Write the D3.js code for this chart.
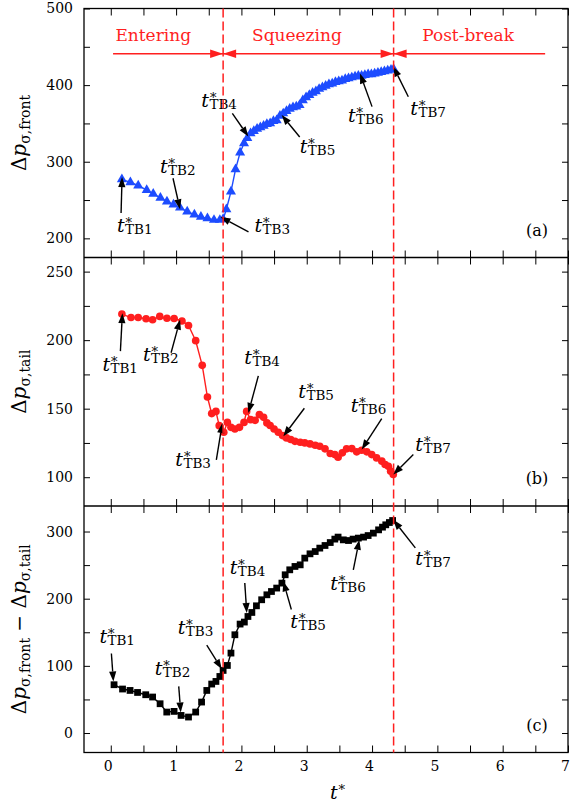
<!DOCTYPE html>
<html>
<head>
<meta charset="utf-8">
<script src="https://cdn.jsdelivr.net/npm/d3@7"></script>
<style>
  body { margin: 0; background: #fff; }
  text { font-family: "DejaVu Serif", serif; }
</style>
</head>
<body>
<svg id="chart" width="570" height="803"></svg>
<script>
// [t*, value]
var frontSeries = [
    [0.17, 277], [0.30, 273], [0.42, 269], [0.55, 263], [0.65, 258], [0.76, 253],
    [0.86, 248], [0.96, 244], [1.06, 240], [1.17, 235], [1.28, 231], [1.38, 228],
    [1.48, 226], [1.58, 224], [1.67, 224], [1.72, 225], [1.77, 238], [1.84, 261],
    [1.91, 290], [1.98, 312], [2.04, 324], [2.09, 331], [2.14, 337], [2.19, 340],
    [2.24, 343], [2.29, 345], [2.34, 347], [2.39, 349], [2.44, 350], [2.49, 353],
    [2.54, 354], [2.59, 360], [2.64, 363], [2.69, 366], [2.74, 369], [2.79, 371],
    [2.84, 372], [2.89, 374], [2.94, 380], [2.99, 384], [3.04, 387], [3.09, 390],
    [3.14, 392], [3.19, 395], [3.24, 397], [3.29, 399], [3.34, 401], [3.39, 402],
    [3.44, 404], [3.49, 405], [3.54, 406], [3.59, 408], [3.64, 409], [3.69, 410],
    [3.74, 411], [3.79, 412], [3.84, 412], [3.89, 413], [3.94, 414], [3.99, 414],
    [4.04, 415], [4.09, 416], [4.14, 417], [4.19, 418], [4.24, 419], [4.29, 420],
    [4.33, 421]
];
var tailSeries = [
    [0.17, 219], [0.31, 216.5], [0.42, 216.5], [0.54, 215.6], [0.64, 214.9], [0.75, 217.3],
    [0.86, 216], [0.97, 215.8], [1.09, 214], [1.19, 210.7], [1.30, 199.6], [1.40, 181.6],
    [1.48, 158.5], [1.545, 146.4], [1.61, 148], [1.66, 137.6], [1.73, 132.8], [1.785, 140],
    [1.84, 136.4], [1.90, 135.2], [1.97, 136.4], [2.04, 140], [2.08, 148], [2.14, 142],
    [2.21, 141.5], [2.275, 145.7], [2.34, 143.7], [2.39, 139.6], [2.44, 137.7], [2.50, 135.2],
    [2.565, 132.8], [2.63, 130.4], [2.69, 128.7], [2.755, 127.5], [2.82, 126.2], [2.90, 125.5],
    [2.97, 125], [3.05, 124.3], [3.13, 123.3], [3.20, 122.6], [3.28, 120.7], [3.36, 117.3],
    [3.43, 116.5], [3.48, 114.6], [3.545, 117.8], [3.61, 120.7], [3.69, 120.9], [3.765, 118.5],
    [3.84, 119.7], [3.92, 118.5], [3.995, 116.5], [4.07, 114.1], [4.15, 111.7], [4.20, 109.3],
    [4.25, 108], [4.285, 104.4], [4.325, 102]
];
var diffSeries = [
    [0.05, 71.9], [0.18, 65.5], [0.295, 63.4], [0.41, 60.4], [0.535, 57], [0.64, 53.6],
    [0.755, 43.6], [0.857, 31.2], [0.969, 32.2], [1.076, 26.2], [1.19, 23.8], [1.30, 31.2],
    [1.39, 46.1], [1.47, 63.4], [1.545, 72.9], [1.61, 76.8], [1.67, 84.2], [1.72, 93.2],
    [1.785, 100.6], [1.84, 119], [1.90, 146.3], [1.98, 162.2], [2.045, 165.2], [2.10, 173.5],
    [2.16, 179.5], [2.23, 189.4], [2.31, 198.4], [2.39, 205.8], [2.46, 210.7], [2.54, 215.8],
    [2.62, 223.2], [2.67, 235.6], [2.74, 243], [2.82, 248], [2.90, 250.4], [2.97, 260.4],
    [3.05, 266.8], [3.13, 270.2], [3.20, 275.3], [3.28, 279.2], [3.36, 283.6], [3.43, 288.7],
    [3.48, 291.7], [3.56, 287.6], [3.64, 286.6], [3.71, 288.7], [3.79, 290.2], [3.87, 291.7],
    [3.94, 294], [4.02, 297.6], [4.10, 302.5], [4.16, 306.5], [4.21, 310], [4.265, 313.4],
    [4.315, 316.4]
];

// [name, tip t*, tip value, tail dx, tail dy, label dx, label dy]
var frontNotes = [
    ['TB1', 0.173, 280, -1, 36, -5, 55],
    ['TB2', 1.06, 238, -7, -31, -20, -36],
    ['TB3', 1.68, 228, 28, 15, 34, 15],
    ['TB4', 2.106, 333, -16, -23, -47, -29],
    ['TB5', 2.617, 361, 18, 22, 18, 38],
    ['TB6', 3.816, 415, 12, 33, -12, 48],
    ['TB7', 4.326, 424, 15, 30, 17, 48]
];
var tailNotes = [
    ['TB1', 0.178, 219.7, -2, 38, -20, 58],
    ['TB2', 1.061, 214.9, -9, 33, -37, 41],
    ['TB3', 1.708, 139.6, -6, 37, -47, 43],
    ['TB4', 2.106, 146.9, 10, -37, -4, -49],
    ['TB5', 2.642, 129.9, 21, -28, 15, -38],
    ['TB6', 3.842, 120.2, 20, -31, -11, -38],
    ['TB7', 4.326, 102, 20, -20, 22, -23]
];
var diffNotes = [
    ['TB1', 0.04, 76.8, -2, -28, -14, -38],
    ['TB2', 1.071, 30.7, -2, -26, -26, -37],
    ['TB3', 1.699, 95.2, -15, -24, -44, -35],
    ['TB4', 2.082, 178.6, -2, -30, -17, -39],
    ['TB5', 2.642, 225.6, 8, 28, 7, 47],
    ['TB6', 3.805, 287.6, -6, 30, -29, 50],
    ['TB7', 4.326, 317.4, 22, 28, 22, 45]
];

var phaseNames = ['Entering', 'Squeezing', 'Post-break'];
var phaseLabelT = [0.65, 2.85, 5.47];
var phaseBounds = [1.72, 4.33];
var phaseLineExtent = [0.035, 6.65];
var phaseLineValue = 441;
var phaseTextValue = 458;

var xTicks = d3.range(0, 7.01, 0.5);
var frontTicks = d3.range(200, 501, 50);
var tailTicks = d3.range(100, 251, 25);
var diffTicks = d3.range(0, 301, 50);

var left = 84;
var right = 568;
var edges = [8.5, 257.5, 506, 752.5];
var red = '#ff1f1f';

var svg = d3.select('#chart');
var xScale = d3.scaleLinear().domain([-0.41, 7]).range([left, right]);

var panels = [
    { series: frontSeries, notes: frontNotes, domain: [175, 500], ticks: frontTicks, step: 100,
      color: '#1d4cff', symbol: d3.symbolTriangle, size: 44, tag: '(a)', sub: ['σ,front'] },
    { series: tailSeries, notes: tailNotes, domain: [79, 260.3], ticks: tailTicks, step: 50,
      color: '#ff1f1f', symbol: d3.symbolCircle, size: 46, tag: '(b)', sub: ['σ,tail'] },
    { series: diffSeries, notes: diffNotes, domain: [-29, 338], ticks: diffTicks, step: 100,
      color: '#000', symbol: d3.symbolSquare, size: 46, tag: '(c)', sub: ['σ,front', 'σ,tail'] }
];

/* Helpers */
// t with a starred superscript stacked over the subscript, as one text element
function tLabel(g, x, y, sub) {
    var txt = g.append('text').attr('x', x).attr('y', y);
    txt.append('tspan').style('font-style', 'italic').style('font-size', '19px').text('t');
    txt.append('tspan').attr('dx', 0.9).attr('dy', -5).style('font-size', '13px').text('*');
    if (sub) {
        txt.append('tspan').attr('dx', -7).attr('dy', 7).style('font-size', '13.5px').text(sub);
    }
}

function arrow(g, x1, y1, x2, y2) {
    var dx = x2 - x1, dy = y2 - y1;
    var len = Math.sqrt(dx * dx + dy * dy);
    var ux = dx / len, uy = dy / len;
    var head = 10, half = 3.6;
    var bx = x2 - ux * head, by = y2 - uy * head;
    g.append('line')
        .attr('x1', x1).attr('y1', y1).attr('x2', bx).attr('y2', by)
        .style('stroke', '#000').style('stroke-width', 1.4);
    g.append('path')
        .attr('d', 'M' + x2 + ',' + y2 +
            'L' + (bx - uy * half) + ',' + (by + ux * half) +
            'L' + (bx + uy * half) + ',' + (by - ux * half) + 'Z')
        .style('fill', '#000');
}

function styleAxis(g) {
    g.select('.domain').remove();
    g.selectAll('line').style('stroke-width', 1);
    g.attr('font-family', '"DejaVu Serif", serif').attr('font-size', 14);
}

/* Panels */
panels.forEach(function(p, i) {
    var top = edges[i], bottom = edges[i + 1];
    var yScale = d3.scaleLinear().domain(p.domain).range([bottom, top]);
    var g = svg.append('g');

    var line = d3.line()
        .x(function(d) { return xScale(d[0]); })
        .y(function(d) { return yScale(d[1]); });

    g.append('path')
        .attr('d', line(p.series))
        .style('fill', 'none')
        .style('stroke', p.color)
        .style('stroke-width', 1.4);

    g.selectAll('path.mark')
        .data(p.series)
        .join('path')
        .attr('class', 'mark')
        .attr('transform', function(d) {
            return 'translate(' + xScale(d[0]) + ',' + yScale(d[1]) + ')';
        })
        .attr('d', d3.symbol().type(p.symbol).size(p.size))
        .style('fill', p.color);

    // axes, ticks pointing inward on all four sides
    var isLast = i === panels.length - 1;
    var bottomAxis = g.append('g')
        .attr('transform', 'translate(0,' + bottom + ')')
        .call(d3.axisBottom(xScale).tickValues(xTicks).tickSize(-7).tickSizeOuter(0)
            .tickPadding(14)
            .tickFormat(function(d) { return isLast && d % 1 === 0 ? d : ''; }));
    styleAxis(bottomAxis);
    bottomAxis.selectAll('text').attr('dx', -3).attr('dy', '0.35em');

    styleAxis(g.append('g')
        .attr('transform', 'translate(0,' + top + ')')
        .call(d3.axisTop(xScale).tickValues(xTicks).tickSize(-7).tickSizeOuter(0).tickFormat('')));

    var leftAxis = g.append('g')
        .attr('transform', 'translate(' + left + ',0)')
        .call(d3.axisLeft(yScale).tickValues(p.ticks).tickSize(-6).tickSizeOuter(0)
            .tickPadding(11)
            .tickFormat(function(d) { return d % p.step === 0 ? d : ''; }));
    styleAxis(leftAxis);

    styleAxis(g.append('g')
        .attr('transform', 'translate(' + right + ',0)')
        .call(d3.axisRight(yScale).tickValues(p.ticks).tickSize(-6).tickSizeOuter(0).tickFormat('')));

    // y title
    var title = g.append('text')
        .attr('transform', 'translate(26,' + (top + bottom) / 2 + ') rotate(-90)')
        .style('text-anchor', 'middle')
        .style('font-size', '20px');
    p.sub.forEach(function(s, k) {
        if (k > 0) title.append('tspan').attr('dy', -4).text(' − ');
        title.append('tspan').text('Δ');
        title.append('tspan').style('font-style', 'italic').text('p');
        title.append('tspan').attr('dy', 4).style('font-size', '14px').text(s);
    });

    // panel tag
    g.append('text')
        .attr('x', right - 31)
        .attr('y', bottom - 22)
        .style('text-anchor', 'middle')
        .style('font-size', '16px')
        .text(p.tag);

    // annotations
    p.notes.forEach(function(n) {
        var tx = xScale(n[1]), ty = yScale(n[2]);
        arrow(g, tx + n[3], ty + n[4], tx, ty);
        tLabel(g, tx + n[5], ty + n[6], n[0]);
    });

    p.yScale = yScale;
});

/* Frame */
svg.append('rect')
    .attr('x', left).attr('y', edges[0])
    .attr('width', right - left).attr('height', edges[3] - edges[0])
    .style('fill', 'none').style('stroke', '#000').style('stroke-width', 1.3);
svg.selectAll('line.sep')
    .data(edges.slice(1, 3))
    .join('line')
    .attr('class', 'sep')
    .attr('x1', left).attr('x2', right)
    .attr('y1', function(d) { return d; }).attr('y2', function(d) { return d; })
    .style('stroke', '#000').style('stroke-width', 1.3);

/* Phase boundaries */
svg.selectAll('line.phase')
    .data(phaseBounds)
    .join('line')
    .attr('class', 'phase')
    .attr('x1', xScale).attr('x2', xScale)
    .attr('y1', edges[0]).attr('y2', edges[3])
    .style('stroke', red)
    .style('stroke-width', 1.5)
    .style('stroke-dasharray', '9,4');

var yFront = panels[0].yScale;
var lineY = yFront(phaseLineValue);
svg.append('line')
    .attr('x1', xScale(phaseLineExtent[0])).attr('x2', xScale(phaseLineExtent[1]))
    .attr('y1', lineY).attr('y2', lineY)
    .style('stroke', red).style('stroke-width', 1.5);

phaseBounds.forEach(function(b) {
    var bx = xScale(b);
    [-1, 1].forEach(function(side) {
        svg.append('path')
            .attr('d', 'M' + bx + ',' + lineY +
                'L' + (bx + side * 13) + ',' + (lineY - 4.2) +
                'L' + (bx + side * 13) + ',' + (lineY + 4.2) + 'Z')
            .style('fill', red);
    });
});

svg.selectAll('text.phase')
    .data(phaseNames)
    .join('text')
    .attr('class', 'phase')
    .attr('x', function(d, i) { return xScale(phaseLabelT[i]); })
    .attr('y', yFront(phaseTextValue))
    .style('text-anchor', 'middle')
    .style('font-size', '17px')
    .style('fill', red)
    .text(function(d) { return d; });

/* x title */
tLabel(svg, 330, 799, null);
</script>
</body>
</html>
